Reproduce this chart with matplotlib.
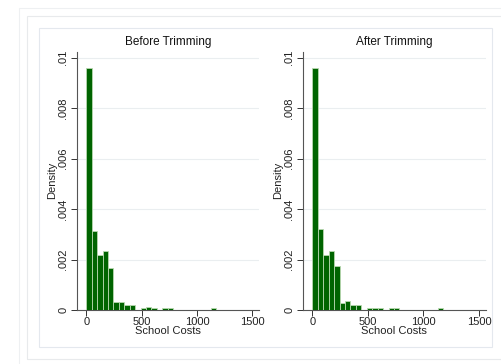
import numpy as np
import matplotlib
matplotlib.use("Agg")
import matplotlib.pyplot as plt
from matplotlib.patches import Rectangle

plt.rcParams['font.family'] = ['Liberation Sans', 'DejaVu Sans']

bin_width = 49.0
titles = ["Before Trimming", "After Trimming"]
before = [0.0096, 0.00315, 0.0022, 0.00235, 0.00168, 0.00032, 0.00032, 0.0002, 0.0002, 0.0,
          0.00006, 0.00013, 0.00006, 0.0, 0.00006, 0.00006, 0, 0, 0, 0, 0, 0, 0, 0.00006]
after = [0.0096, 0.0032, 0.0022, 0.00234, 0.00173, 0.00028, 0.00036, 0.00021, 0.00021, 0.0,
         0.00006, 0.00006, 0.00006, 0.0, 0.00006, 0.00006, 0, 0, 0, 0, 0, 0, 0, 0.00006]
xticks = [0, 500, 1000, 1500]
yticks = [0, 0.002, 0.004, 0.006, 0.008, 0.01]
ytick_labels = ["0", ".002", ".004", ".006", ".008", ".01"]

W, H = 501, 364
fig = plt.figure(figsize=(W / 100, H / 100), dpi=100)
fig.patch.set_facecolor('white')

def box(x0, y0, x1, y1, color):
    fig.patches.append(Rectangle((x0 / W, 1 - y1 / H), (x1 - x0) / W, (y1 - y0) / H,
                                 transform=fig.transFigure, fill=False,
                                 edgecolor=color, linewidth=0.8))

box(19, 8, 505, 368, '#eef0f2')
box(27, 16, 505, 359, '#e8eaec')
box(39, 28, 492, 347, '#e4e8ee')

panels = [(76.7, 259.0), (302.7, 485.7)]
top, bottom = 51.7, 310.0
for (x0, x1), title, vals in zip(panels, titles, [before, after]):
    ax = fig.add_axes([x0 / W, 1 - bottom / H, (x1 - x0) / W, (bottom - top) / H])
    ax.set_facecolor('white')
    edges = np.arange(len(vals)) * bin_width
    ax.bar(edges, vals, width=bin_width, align='edge', color='#006400',
           edgecolor='#b8d8b0', linewidth=0.6, zorder=3)
    ax.set_xlim(-86.7, 1560)
    ax.set_ylim(0, 0.01024)
    ax.set_xticks(xticks)
    ax.set_yticks(yticks)
    ax.set_yticklabels(ytick_labels, rotation=90, va='center')
    ax.tick_params(axis='both', labelsize=8, color='#333333', labelcolor='#222222',
                   length=4, width=0.7, direction='out', pad=2)
    ax.tick_params(axis='x', pad=1)
    for s in ['top', 'right']:
        ax.spines[s].set_visible(False)
    for s in ['left', 'bottom']:
        ax.spines[s].set_color('#555555')
        ax.spines[s].set_linewidth(0.8)
    ax.yaxis.grid(True, color='#eaeef0', linewidth=0.8, zorder=0)
    ax.set_axisbelow(True)
    ax.set_title(title, fontsize=8.5, pad=5, color='#111111')
    ax.set_xlabel("School Costs", fontsize=8, labelpad=-1, color='#222222')
    ax.set_ylabel("Density", fontsize=8, labelpad=1, color='#222222')

fig.savefig("out.png", dpi=100)
